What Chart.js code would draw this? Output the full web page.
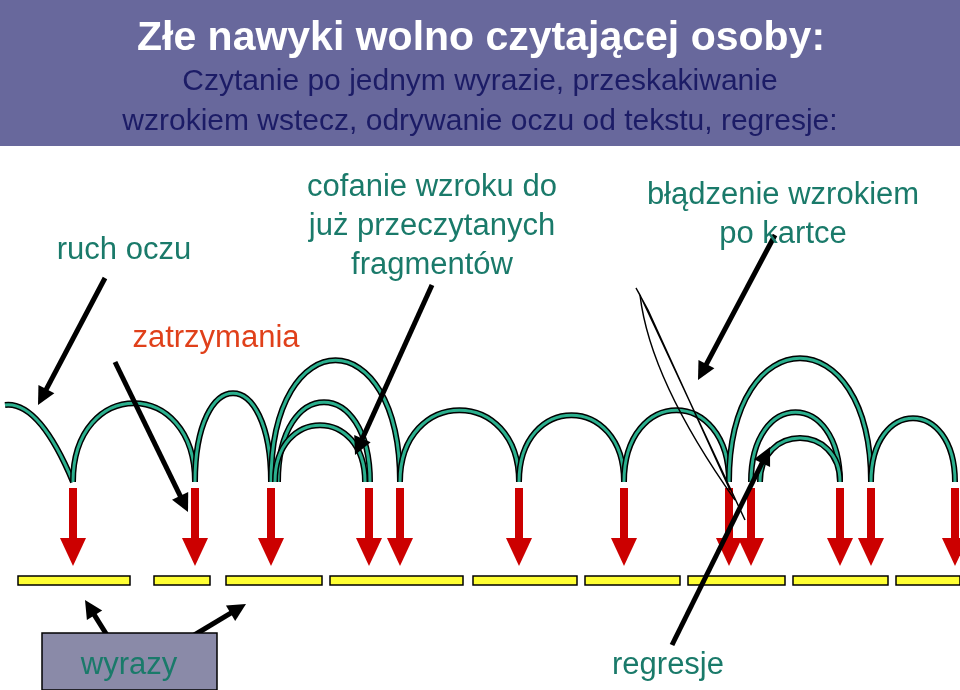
<!DOCTYPE html>
<html><head><meta charset="utf-8">
<script src="https://cdn.jsdelivr.net/npm/chart.js@4"></script>
<style>html,body{margin:0;padding:0;background:#fff}#w{width:960px;height:690px}</style>
</head><body><div id="w"><canvas id="c"></canvas></div>
<script>
const wordSegments=[[18,130],[154,210],[226,322],[330,463],[473,577],[585,680],[688,785],[793,888],[896,960]];
const fixations=[73,195,271,369,400,519,624,729,751,840,871,955];
const saccades=[[5,73,405,1],[73,195,403,0],[195,271,393,0],[271,400,360,0],[278,370,402,0],[275,365,425,0],[400,519,410,0],[519,624,415,0],[624,729,410,0],[729,871,358,0],[751,840,412,0],[760,840,438,0],[871,955,418,0]];
const pointers=[[105,278,38,405],[115,362,188,512],[432,285,355,455],[775,235,698,380],[672,645,770,447],[110,640,85,600],[186,640,246,604]];
const labels=[["ruch oczu",124,250,"#1a7a6a",31],["cofanie wzroku do",432,187,"#1a7a6a",31],["już przeczytanych",432,226,"#1a7a6a",31],["fragmentów",432,265,"#1a7a6a",31],["błądzenie wzrokiem",783,195,"#1a7a6a",31],["po kartce",783,234,"#1a7a6a",31],["zatrzymania",216,338,"#e0401a",31],["wyrazy",129,665,"#1a7a6a",31],["regresje",668,665,"#1a7a6a",31]];
const F='%spx "Liberation Sans", Arial, sans-serif';
const draw={id:'draw',afterDraw(ch){
 const c=ch.ctx,X=v=>ch.scales.x.getPixelForValue(v),Y=v=>ch.scales.y.getPixelForValue(v);
 c.save();
 c.fillStyle='#68689c';c.fillRect(X(0),Y(0),X(960)-X(0),Y(146)-Y(0));
 c.textAlign='center';c.textBaseline='middle';
 c.fillStyle='#fff';c.font='bold '+F.replace('%s',41);c.fillText('Złe nawyki wolno czytającej osoby:',X(481),Y(39));
 c.fillStyle='#1c1c66';c.font=F.replace('%s',30);
 c.fillText('Czytanie po jednym wyrazie, przeskakiwanie',X(480),Y(82));
 c.fillText('wzrokiem wstecz, odrywanie oczu od tekstu, regresje:',X(480),Y(122));
 wordSegments.forEach(s=>{c.fillStyle='#ffff33';c.strokeStyle='#000';c.lineWidth=1.5;c.fillRect(X(s[0]),Y(576),X(s[1])-X(s[0]),9);c.strokeRect(X(s[0]),Y(576),X(s[1])-X(s[0]),9);});
 c.fillStyle='#cc0000';
 fixations.forEach(x=>{c.fillRect(X(x)-4,Y(488),8,Y(540)-Y(488));c.beginPath();c.moveTo(X(x)-13,Y(538));c.lineTo(X(x)+13,Y(538));c.lineTo(X(x),Y(566));c.closePath();c.fill();});
 saccades.forEach(a=>{const x1=X(a[0]),x2=X(a[1]),b=Y(482),t=Y(a[2]);const k=(b-t)*1.33;
  const path=()=>{c.beginPath();if(a[3]){c.moveTo(x1,t);c.quadraticCurveTo(x1+(x2-x1)*0.5,t-4,x2,b);}else{c.moveTo(x1,b);c.bezierCurveTo(x1,b-k,x2,b-k,x2,b);}};
  path();c.strokeStyle='#000';c.lineWidth=6;c.stroke();path();c.strokeStyle='#2bb08e';c.lineWidth=3;c.stroke();});
 c.strokeStyle='#000';c.lineWidth=1.5;c.beginPath();c.moveTo(X(745),Y(520));c.lineTo(X(640),Y(295));c.lineTo(X(636),Y(288));c.lineTo(X(648),Y(310));c.lineTo(X(730),Y(490));c.stroke();
 c.beginPath();c.moveTo(X(640),Y(295));c.quadraticCurveTo(X(650),Y(380),X(735),Y(500));c.stroke();
 pointers.forEach(p=>{const x1=X(p[0]),y1=Y(p[1]),x2=X(p[2]),y2=Y(p[3]),an=Math.atan2(y2-y1,x2-x1);
  c.strokeStyle='#000';c.lineWidth=5;c.beginPath();c.moveTo(x1,y1);c.lineTo(x2-12*Math.cos(an),y2-12*Math.sin(an));c.stroke();
  c.fillStyle='#000';c.beginPath();c.moveTo(x2,y2);c.lineTo(x2-18*Math.cos(an)+9*Math.sin(an),y2-18*Math.sin(an)-9*Math.cos(an));c.lineTo(x2-18*Math.cos(an)-9*Math.sin(an),y2-18*Math.sin(an)+9*Math.cos(an));c.closePath();c.fill();});
 c.fillStyle='#8a8aa8';c.fillRect(X(42),Y(633),X(217)-X(42),Y(690)-Y(633));c.strokeStyle='#000';c.lineWidth=1.5;c.strokeRect(X(42),Y(633),X(217)-X(42),Y(690)-Y(633));
 labels.forEach(l=>{c.fillStyle=l[3];c.font=F.replace('%s',l[4]);c.fillText(l[0],X(l[1]),Y(l[2]));});
 c.restore();}};
new Chart(document.getElementById('c'),{type:'scatter',data:{datasets:[{data:fixations.map(x=>({x,y:488})),pointRadius:0}]},
 options:{responsive:true,maintainAspectRatio:false,animation:false,layout:{padding:0},
 plugins:{legend:{display:false},tooltip:{enabled:false}},
 scales:{x:{type:'linear',min:0,max:960,display:false},y:{type:'linear',min:0,max:690,reverse:true,display:false}}},plugins:[draw]});
</script></body></html>
